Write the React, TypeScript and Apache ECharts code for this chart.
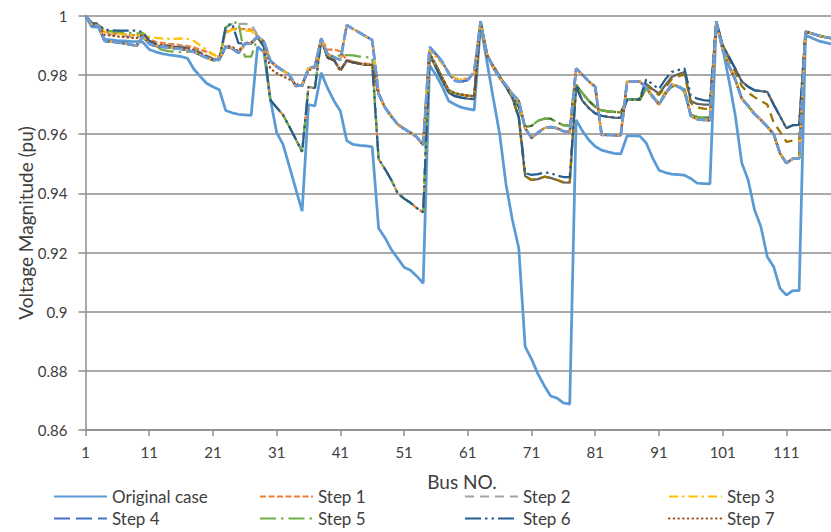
import React, { useEffect, useRef } from "react";
import * as echarts from "echarts";

// ---------- categories ----------
const busNo: string[] = Array.from({ length: 118 }, (_, i) => String(i + 1));
const yTicks = { min: 0.86, max: 1, step: 0.02 };

// ---------- original case (bus 1..118) ----------
const originalCase = [
  1.0000, 0.9962, 0.9961, 0.9920, 0.9918, 0.9916, 0.9915, 0.9913, 0.9912, 0.9911,
  0.9886, 0.9878, 0.9872, 0.9868, 0.9865, 0.9862, 0.9856, 0.9820, 0.9795, 0.9772,
  0.9760, 0.9750, 0.9680, 0.9672, 0.9667, 0.9665, 0.9663, 0.9895, 0.9878, 0.9720,
  0.9605, 0.9565, 0.9490, 0.9415, 0.9340, 0.9700, 0.9695, 0.9807, 0.9755, 0.9712,
  0.9678, 0.9578, 0.9565, 0.9562, 0.9560, 0.9557, 0.9282, 0.9250, 0.9210, 0.9180,
  0.9150, 0.9140, 0.9120, 0.9096, 0.9833, 0.9800, 0.9760, 0.9712, 0.9700, 0.9690,
  0.9685, 0.9681, 0.9970, 0.9845, 0.9720, 0.9600, 0.9430, 0.9310, 0.9215, 0.8882,
  0.8840, 0.8790, 0.8750, 0.8715, 0.8708, 0.8692, 0.8688, 0.9648, 0.9610, 0.9580,
  0.9558, 0.9546, 0.9540, 0.9535, 0.9533, 0.9594, 0.9594, 0.9593, 0.9570, 0.9520,
  0.9478, 0.9470, 0.9465, 0.9463, 0.9461, 0.9450, 0.9434, 0.9433, 0.9432, 0.9980,
  0.9890, 0.9780, 0.9660, 0.9502, 0.9445, 0.9344, 0.9287, 0.9186, 0.9152, 0.9079,
  0.9056, 0.9071, 0.9071, 0.9935, 0.9925, 0.9915, 0.9910, 0.9905,
];

// ---------- step profiles, read per feeder section ----------
// buses 1..28
const aUp = [1.0000, 0.9970, 0.9966, 0.9915, 0.9912, 0.9910, 0.9907, 0.9903, 0.9898, 0.9930, 0.9905, 0.9898, 0.9895, 0.9893, 0.9890, 0.9888, 0.9884, 0.9878, 0.9868, 0.9858, 0.9850, 0.9852, 0.9895, 0.9890, 0.9874, 0.9905, 0.9906, 0.9930];
const aStep6 = [1.0000, 0.9975, 0.9972, 0.9952, 0.9951, 0.9950, 0.9950, 0.9950, 0.9949, 0.9945, 0.9915, 0.9905, 0.9900, 0.9897, 0.9895, 0.9893, 0.9890, 0.9883, 0.9873, 0.9862, 0.9852, 0.9850, 0.9963, 0.9975, 0.9907, 0.9906, 0.9908, 0.9930];
const aStep5 = [1.0000, 0.9975, 0.9970, 0.9950, 0.9948, 0.9946, 0.9944, 0.9942, 0.9940, 0.9940, 0.9905, 0.9895, 0.9885, 0.9880, 0.9878, 0.9877, 0.9878, 0.9880, 0.9872, 0.9862, 0.9852, 0.9850, 0.9960, 0.9975, 0.9978, 0.9862, 0.9862, 0.9925];
const aStep2 = [1.0000, 0.9972, 0.9968, 0.9940, 0.9938, 0.9935, 0.9932, 0.9930, 0.9928, 0.9935, 0.9912, 0.9905, 0.9902, 0.9900, 0.9898, 0.9896, 0.9893, 0.9887, 0.9877, 0.9866, 0.9855, 0.9852, 0.9960, 0.9972, 0.9972, 0.9972, 0.9970, 0.9935];
const aStep1 = [1.0000, 0.9975, 0.9972, 0.9945, 0.9943, 0.9940, 0.9938, 0.9935, 0.9933, 0.9940, 0.9920, 0.9912, 0.9908, 0.9905, 0.9903, 0.9900, 0.9897, 0.9893, 0.9885, 0.9878, 0.9870, 0.9860, 0.9945, 0.9955, 0.9956, 0.9955, 0.9953, 0.9932];
const aStep3 = [1.0000, 0.9975, 0.9972, 0.9945, 0.9942, 0.9940, 0.9937, 0.9935, 0.9933, 0.9942, 0.9928, 0.9925, 0.9923, 0.9922, 0.9922, 0.9923, 0.9922, 0.9915, 0.9900, 0.9885, 0.9870, 0.9858, 0.9940, 0.9953, 0.9955, 0.9950, 0.9948, 0.9932];
const aStep7 = [1.0000, 0.9974, 0.9970, 0.9935, 0.9933, 0.9930, 0.9928, 0.9926, 0.9924, 0.9935, 0.9910, 0.9903, 0.9900, 0.9898, 0.9895, 0.9893, 0.9890, 0.9885, 0.9875, 0.9864, 0.9854, 0.9852, 0.9900, 0.9895, 0.9880, 0.9908, 0.9910, 0.9930];
// buses 29..37
const bUp = [0.9912, 0.9848, 0.9828, 0.9815, 0.9800, 0.9762, 0.9765, 0.9822, 0.9828];
const bStep7 = [0.9905, 0.9822, 0.9806, 0.9795, 0.9785, 0.9770, 0.9762, 0.9815, 0.9825];
const bLow = [0.9895, 0.9715, 0.9690, 0.9665, 0.9625, 0.9583, 0.9540, 0.9760, 0.9755];
// buses 38..46
const cTop = [0.9923, 0.9870, 0.9860, 0.9850, 0.9968, 0.9955, 0.9943, 0.9930, 0.9918];
const cMid = [0.9920, 0.9858, 0.9850, 0.9815, 0.9848, 0.9842, 0.9838, 0.9835, 0.9833];
const cStep1 = [0.9920, 0.9885, 0.9886, 0.9880, 0.9850, 0.9845, 0.9840, 0.9838, 0.9835];
const cStep5 = [0.9920, 0.9862, 0.9855, 0.9868, 0.9867, 0.9866, 0.9862, 0.9860, 0.9858];
// buses 47..54
const dUp = [0.9736, 0.9690, 0.9660, 0.9633, 0.9618, 0.9605, 0.9590, 0.9563];
const dLow = [0.9516, 0.9482, 0.9445, 0.9400, 0.9382, 0.9368, 0.9350, 0.9336];
// buses 55..62
const eUp = [0.9895, 0.9870, 0.9845, 0.9805, 0.9780, 0.9777, 0.9783, 0.9810];
const eStep3 = [0.9885, 0.9862, 0.9838, 0.9810, 0.9788, 0.9784, 0.9790, 0.9805];
const eMid = [0.9873, 0.9833, 0.9790, 0.9748, 0.9738, 0.9733, 0.9730, 0.9728];
const eLow = [0.9868, 0.9825, 0.9780, 0.9740, 0.9728, 0.9723, 0.9720, 0.9718];
// buses 63..77
const fUp = [0.9980, 0.9870, 0.9825, 0.9790, 0.9765, 0.9735, 0.9712, 0.9620, 0.9587, 0.9605, 0.9620, 0.9624, 0.9620, 0.9610, 0.9607];
const fMid = [0.9980, 0.9870, 0.9825, 0.9788, 0.9760, 0.9728, 0.9690, 0.9625, 0.9628, 0.9645, 0.9652, 0.9652, 0.9640, 0.9630, 0.9628];
const fLow = [0.9980, 0.9865, 0.9830, 0.9796, 0.9760, 0.9722, 0.9655, 0.9458, 0.9445, 0.9448, 0.9456, 0.9452, 0.9445, 0.9437, 0.9436];
const fStep6 = [0.9980, 0.9865, 0.9830, 0.9796, 0.9760, 0.9722, 0.9660, 0.9468, 0.9462, 0.9465, 0.9470, 0.9468, 0.9460, 0.9455, 0.9455];
// buses 78..99
const gUp = [0.9822, 0.9800, 0.9778, 0.9760, 0.9597, 0.9597, 0.9596, 0.9596, 0.9777, 0.9777, 0.9777, 0.9758, 0.9728, 0.9700, 0.9735, 0.9768, 0.9760, 0.9750, 0.9662, 0.9650, 0.9648, 0.9647];
const gStep8 = [0.9760, 0.9712, 0.9688, 0.9670, 0.9662, 0.9658, 0.9656, 0.9655, 0.9717, 0.9717, 0.9717, 0.9770, 0.9752, 0.9737, 0.9765, 0.9793, 0.9802, 0.9810, 0.9712, 0.9702, 0.9700, 0.9700];
const gStep9 = [0.9766, 0.9738, 0.9712, 0.9692, 0.9680, 0.9677, 0.9675, 0.9673, 0.9717, 0.9717, 0.9716, 0.9765, 0.9748, 0.9732, 0.9758, 0.9785, 0.9795, 0.9802, 0.9705, 0.9690, 0.9686, 0.9685];
const gStep6 = [0.9760, 0.9712, 0.9688, 0.9670, 0.9662, 0.9658, 0.9656, 0.9655, 0.9717, 0.9717, 0.9720, 0.9785, 0.9768, 0.9752, 0.9785, 0.9810, 0.9816, 0.9822, 0.9730, 0.9720, 0.9715, 0.9712];
const gGreen = [0.9766, 0.9738, 0.9712, 0.9692, 0.9680, 0.9677, 0.9675, 0.9673, 0.9717, 0.9717, 0.9716, 0.9755, 0.9725, 0.9705, 0.9740, 0.9760, 0.9766, 0.9743, 0.9665, 0.9658, 0.9656, 0.9656];
// buses 100..113
const hUp = [0.9980, 0.9885, 0.9830, 0.9783, 0.9720, 0.9695, 0.9668, 0.9648, 0.9625, 0.9600, 0.9535, 0.9502, 0.9517, 0.9518];
const hStep8 = [0.9980, 0.9900, 0.9860, 0.9820, 0.9778, 0.9760, 0.9748, 0.9745, 0.9743, 0.9700, 0.9660, 0.9620, 0.9630, 0.9631];
const hStep9 = [0.9980, 0.9900, 0.9855, 0.9808, 0.9762, 0.9740, 0.9725, 0.9712, 0.9700, 0.9640, 0.9608, 0.9574, 0.9578, 0.9580];
// buses 114..118
const iAll = [0.9946, 0.9940, 0.9933, 0.9928, 0.9924];

const step1 = [...aStep1, ...bLow, ...cStep1, ...dLow, ...eMid, ...fUp, ...gUp, ...hUp, ...iAll];
const step2 = [...aStep2, ...bUp, ...cMid, ...dUp, ...eMid, ...fUp, ...gUp, ...hUp, ...iAll];
const step3 = [...aStep3, ...bUp, ...cTop, ...dUp, ...eStep3, ...fUp, ...gUp, ...hUp, ...iAll];
const step4 = [...aUp, ...bUp, ...cTop, ...dUp, ...eUp, ...fUp, ...gUp, ...hUp, ...iAll];
const step5 = [...aStep5, ...bLow, ...cStep5, ...dLow, ...eMid, ...fMid, ...gGreen, ...hUp, ...iAll];
const step6 = [...aStep6, ...bLow, ...cMid, ...dLow, ...eLow, ...fStep6, ...gStep6, ...hStep8, ...iAll];
const step7 = [...aStep7, ...bStep7, ...cMid, ...dUp, ...eMid, ...fUp, ...gUp, ...hUp, ...iAll];
const step8 = [...aUp, ...bUp, ...cMid, ...dUp, ...eLow, ...fLow, ...gStep8, ...hStep8, ...iAll];
const step9 = [...aUp, ...bUp, ...cMid, ...dUp, ...eMid, ...fLow, ...gStep9, ...hStep9, ...iAll];
const step10 = [...aUp, ...bUp, ...cMid, ...dUp, ...eMid, ...fMid, ...gGreen, ...hUp, ...iAll];
const step11 = [...aUp, ...bUp, ...cTop, ...dUp, ...eStep3, ...fUp, ...gUp, ...hUp, ...iAll];
const step12 = [...aUp, ...bUp, ...cTop, ...dUp, ...eUp, ...fUp, ...gUp, ...hUp, ...iAll];

// drawing order: later entries are painted on top
const seriesNames = ["Original case", "Step 8", "Step 9", "Step 10", "Step 1", "Step 2", "Step 3", "Step 4", "Step 5", "Step 6", "Step 7", "Step 11", "Step 12"];
const seriesData = [originalCase, step8, step9, step10, step1, step2, step3, step4, step5, step6, step7, step11, step12];
const seriesColors = ["#5B9BD5", "#636363", "#997300", "#43682B", "#ED7D31", "#A5A5A5", "#FFC000", "#4472C4", "#70AD47", "#255E91", "#9E480E", "#F4A84A", "#6A9BDA"];
const seriesDash: (number[] | "solid")[] = [
  "solid", "solid", [9, 6], [16, 6], [6, 2.5], [9, 6], [9, 4, 2.5, 4], [16, 6], [16, 5, 2.5, 5], [16, 4, 2.5, 4, 2.5, 4], [0.5, 4.2], [0.5, 4.5], [9, 5],
];
const seriesWidth = [2.75, 2.25, 2.25, 2.25, 2.25, 2.25, 2.25, 2.5, 2.25, 2.25, 2.25, 2.5, 2.75];
const legendNames = ["Original case", "Step 1", "Step 2", "Step 3", "Step 4", "Step 5", "Step 6", "Step 7"];

const FONT = "Lato, 'Open Sans', sans-serif";
const TEXT = "#404040";
const GRID = "#8c8c8c";

export default function App() {
  const ref = useRef<HTMLDivElement>(null);
  useEffect(() => {
    if (!ref.current) return;
    const chart = echarts.init(ref.current, undefined, { renderer: "svg" });
    const legendCols = [53, 259, 464, 668];
    const legendRows = [488, 510];
    const legends = legendNames.map((name, i) => ({
      data: [name],
      left: legendCols[i % 4],
      top: legendRows[Math.floor(i / 4)],
      orient: "horizontal",
      padding: 0,
      itemWidth: 53,
      itemHeight: 14,
      selectedMode: false,
      itemStyle: { opacity: 0 },
      textStyle: { fontFamily: FONT, fontSize: 17, color: TEXT, lineHeight: 17 },
    }));
    const option: any = {
      animation: false,
      backgroundColor: "#ffffff",
      grid: { left: 85.5, top: 15.7, width: 755, height: 414.4, containLabel: false },
      xAxis: {
        type: "category",
        data: busNo,
        boundaryGap: false,
        axisLine: { lineStyle: { color: GRID, width: 1.5 } },
        axisTick: { show: true, interval: (i: number) => i % 10 === 0, length: 6, lineStyle: { color: GRID, width: 1.5 } },
        axisLabel: { interval: (i: number) => i % 10 === 0, margin: 14, fontFamily: FONT, fontSize: 15, color: TEXT },
        splitLine: { show: false },
      },
      yAxis: {
        type: "value",
        min: yTicks.min,
        max: yTicks.max,
        interval: yTicks.step,
        axisLine: { show: true, lineStyle: { color: GRID, width: 1.5 } },
        axisTick: { show: true, length: 7, lineStyle: { color: GRID, width: 1.5 } },
        axisLabel: {
          formatter: (v: number) => String(parseFloat(v.toFixed(2))),
          margin: 18,
          fontFamily: FONT,
          fontSize: 15,
          color: TEXT,
        },
        splitLine: { lineStyle: { color: GRID, width: 1.5 } },
      },
      legend: legends,
      graphic: [
        {
          type: "text",
          x: 25,
          y: 223,
          rotation: Math.PI / 2,
          style: { text: "Voltage Magnitude (pu)", fill: TEXT, font: `19px ${FONT}`, textAlign: "center", textVerticalAlign: "middle" },
        },
        {
          type: "text",
          x: 462,
          y: 481,
          style: { text: "Bus NO.", fill: TEXT, font: `19px ${FONT}`, textAlign: "center", textVerticalAlign: "middle" },
        },
      ],
      series: seriesNames.map((name, i) => ({
        name,
        type: "line",
        data: seriesData[i],
        symbol: "none",
        showSymbol: false,
        smooth: false,
        lineStyle: {
          color: seriesColors[i],
          width: seriesWidth[i],
          type: seriesDash[i],
          cap: name === "Step 7" || name === "Step 11" ? "round" : "butt",
        },
        itemStyle: { color: seriesColors[i] },
        emphasis: { disabled: true },
      })),
    };
    chart.setOption(option);
    return () => chart.dispose();
  }, []);
  return (
    <div
      ref={ref}
      style={{ position: "fixed", left: 0, top: 0, width: 831, height: 532, background: "#fff" }}
    />
  );
}
